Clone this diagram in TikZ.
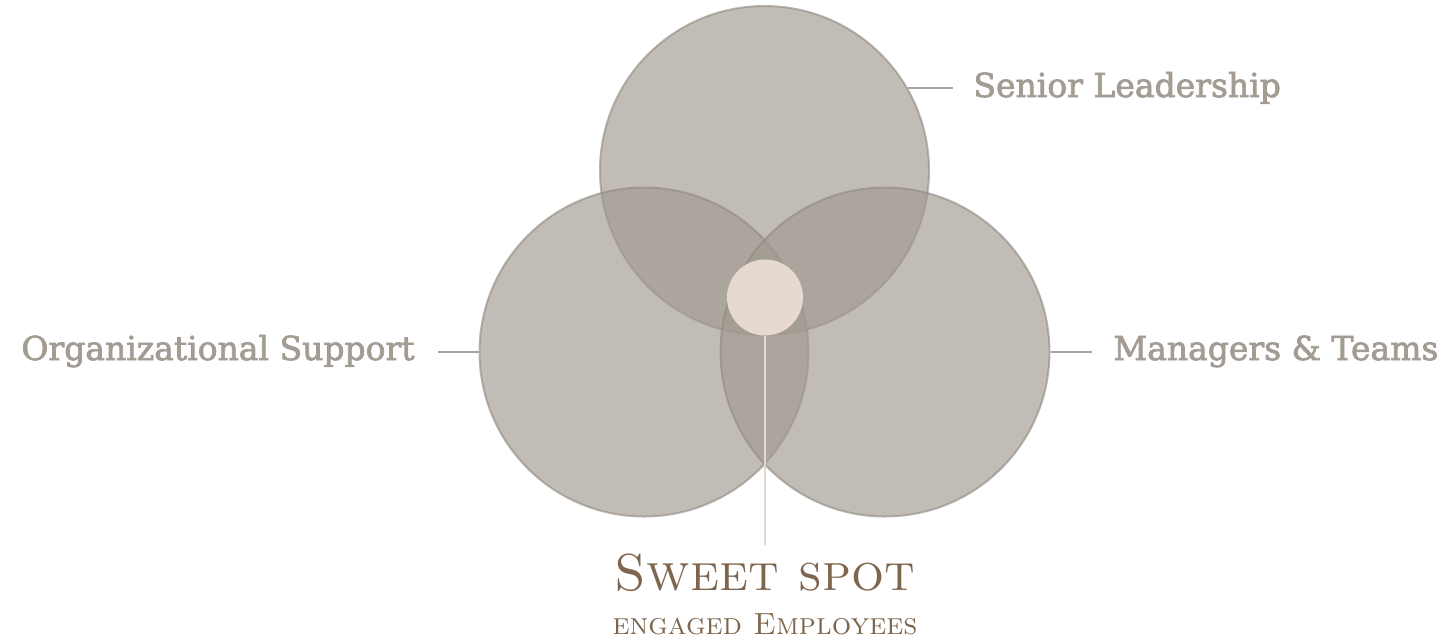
\documentclass[tikz,border=0pt]{standalone}
\usepackage{fontspec}
\usepackage{xcolor}
\usetikzlibrary{positioning}
\newfontfamily\labelfont[FakeBold=2.2]{DejaVu Serif}
\definecolor{vennfill}{HTML}{A0998F}
\definecolor{vennline}{HTML}{8F887E}
\definecolor{labeltext}{HTML}{A39C93}
\definecolor{leaderline}{HTML}{ABA59D}
\definecolor{corefill}{HTML}{E6DAD0}
\definecolor{stemline}{HTML}{E3D8CE}
\definecolor{sweettext}{HTML}{7E664E}

\begin{document}
\begin{tikzpicture}[x=0.5pt, y=-0.5pt,
    venn/.style={circle, fill=vennfill, fill opacity=0.65, draw=vennline, draw opacity=0.6, line width=1pt, minimum size=164.5pt, inner sep=0pt},
    core/.style={circle, fill=corefill, minimum size=38pt, inner sep=0pt},
    vlabel/.style={font=\labelfont\fontsize{16.5}{19}\selectfont, text=labeltext, inner sep=0pt},
    leader/.style={draw=leaderline, line width=0.8pt},
    stem/.style={draw=stemline, line width=1pt}
]
    \useasboundingbox (0,0) rectangle (1444,639);

    % Three overlapping circles
    \node[venn] (lead) at (764.5,170.5) {};
    \node[venn] (org) at (644,352) {};
    \node[venn] (team) at (885,352) {};

    % Sweet spot in the middle
    \node[core] (core) at (765,297.5) {};

    % Labels
    \node[vlabel, anchor=base west] (leadlbl) at (973,97) {Senior Leadership};
    \node[vlabel, anchor=base east] (orglbl) at (415,360) {Organizational Support};
    \node[vlabel, anchor=base west] (teamlbl) at (1113,360) {Managers \& Teams};

    \node[font=\fontsize{26}{30}\selectfont, text=sweettext, inner sep=0pt, anchor=base] (sweet) at (765,590) {\textsc{Sweet spot}};
    \node[font=\fontsize{15.3}{18}\selectfont, text=sweettext, inner sep=0pt, anchor=base] (engaged) at (765,634) {\textsc{engaged Employees}};

    % Leader lines
    \draw[leader, shorten >=10pt] (lead.30) -- (lead.30 -| leadlbl.west);
    \draw[leader, shorten >=11.5pt] (org.west) -- (org.west -| orglbl.east);
    \draw[leader, shorten >=10.5pt] (team.east) -- (team.east -| teamlbl.west);
    \draw[stem, shorten >=4pt] (core.south) -- (sweet.north);
\end{tikzpicture}
\end{document}
